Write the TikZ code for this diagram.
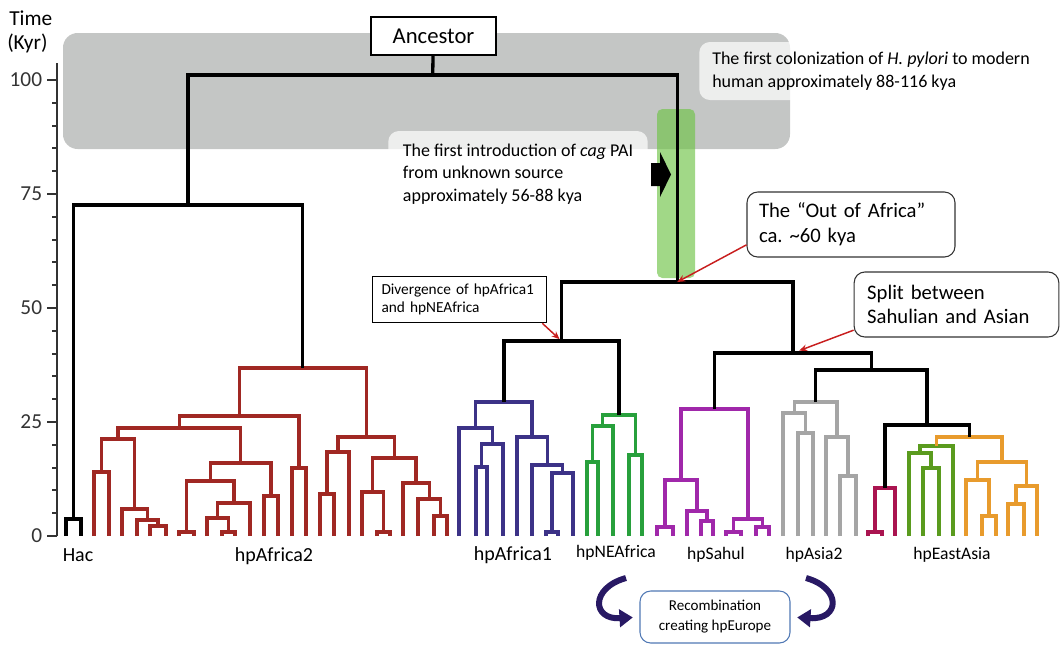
\documentclass[tikz,border=0pt]{standalone}
\usepackage{fontspec}
\setmainfont{Carlito}
\usetikzlibrary{arrows.meta,calc}
\definecolor{hpafrtwo}{RGB}{160,40,35}
\definecolor{hpafrone}{RGB}{60,50,135}
\definecolor{hpnea}{RGB}{40,160,60}
\definecolor{hpsah}{RGB}{160,40,170}
\definecolor{hpasia}{RGB}{165,165,165}
\definecolor{hpeacrim}{RGB}{170,20,80}
\definecolor{hpeagreen}{RGB}{90,155,30}
\definecolor{hpeaorange}{RGB}{232,155,45}
\definecolor{bandgray}{RGB}{196,198,197}
\definecolor{bandgreen}{RGB}{110,195,70}
\definecolor{notered}{RGB}{200,30,30}
\definecolor{recindigo}{RGB}{40,25,100}
\definecolor{recblue}{RGB}{80,120,180}
\newcommand{\clade}[4]{%
  \path let \p1=($(#3)!.5!(#4)$), \p2=(0,#2) in coordinate (#1) at (\x1,\y2);
  \draw (#3) |- (#1) -| (#4);}

\begin{document}
\begin{tikzpicture}[x=0.75pt,y=-0.75pt,
  dendro/.style={line width=2.5pt},
  axisline/.style={line width=1.4pt,black!80},
  axistitle/.style={font=\fontsize{16}{19}\selectfont,inner sep=0pt},
  ticklabel/.style={font=\fontsize{16}{19}\selectfont,inner sep=3pt},
  cladelabel/.style={font=\fontsize{15}{18}\selectfont},
  smalllabel/.style={font=\fontsize{13.2}{16}\selectfont},
  lightbox/.style={fill=white,fill opacity=0.7,text opacity=1,rounded corners=8pt,align=left,anchor=west,font=\fontsize{13.5}{17}\selectfont},
  notebox/.style={draw=black!80,line width=0.8pt,fill=white,rounded corners=8pt,align=left,font=\fontsize{15.5}{18.5}\selectfont},
  notearrow/.style={notered,line width=1.1pt,-{Stealth[length=6pt,width=5pt]}},
  recarrow/.style={recindigo,line width=4.5pt,shorten >=5pt,-{Triangle[length=10pt,width=13pt]}}]
  \useasboundingbox (0,0) rectangle (1062,644);
  \fill[bandgray,rounded corners=11pt] (63,33) rectangle (790,149);
  \node[lightbox,minimum height=43.5pt,inner xsep=9.75pt] (colon) at (699,71) {The first colonization of \textit{H. pylori} to modern\\human approximately 88-116 kya};
  \node[lightbox,minimum height=64.5pt,inner xsep=11pt] (intro) at (388,174) {The first introduction of \textit{cag} PAI\\from unknown source\\approximately 56-88 kya};
  \fill[bandgreen,fill opacity=0.65,rounded corners=4pt] (657,109) rectangle (695,278);
  \fill (651,163) -- (660,163) -- (660,152) -- (671,174.5) -- (660,197) -- (660,186) -- (651,186) -- cycle;

  \draw[axisline] (57,63) -- (57,536);
  \foreach \v in {0,5,...,100} \draw[axisline] (57,{536-4.56*\v}) -- ++(-5,0);
  \foreach \v in {0,25,...,100} \draw[axisline] (57,{536-4.56*\v}) -- ++(-10,0) node[left,ticklabel] (tick\v) {\v};
  \node[axistitle,anchor=west] (time) at (9,18) {Time};
  \node[axistitle,anchor=west] (kyr) at (7,43) {(Kyr)};

  \foreach \n/\xpos in {hc1/66,hc2/81,
    f1/94,f2/109,f3/122,f4/137,f5/150,f6/166,f7/179,f8/194,f9/207,f10/222,f11/235,f12/250,f13/264,
    f14/278,f15/292,f16/306,f17/320,f18/334,f19/349,f20/362,f21/377,f22/390,f23/403,f24/418,f25/434,f26/447,
    o1/459,o2/476,o3/487,o4/503,o5/517,o6/532,o7/546,o8/558,o9/573,
    n1/587,n2/598,n3/613,n4/629,n5/642,
    s1/657,s2/673,s3/687,s4/701,s5/713,s6/726,s7/741,s8/756,s9/769,
    b1/783,b2/798,b3/813,b4/826,b5/840,b6/856,
    e1/868,e2/882,e3/895,e4/909,e5/923,e6/939,e7/953,e8/966,e9/982,e10/996,e11/1008,e12/1024,e13/1037}
    \coordinate (\n) at (\xpos,536);

  \begin{scope}[dendro,hpafrtwo]
    \clade{fT}{472}{f1}{f2}
    \clade{fW}{526}{f5}{f6}
    \clade{fV}{520}{f4}{fW}
    \clade{fU}{509}{f3}{fV}
    \clade{fS}{439}{fT}{fU}
    \clade{fY}{532}{f7}{f8}
    \clade{fG}{532}{f10}{f11}
    \clade{fF}{518}{f9}{fG}
    \clade{fE}{503}{fF}{f12}
    \clade{fD}{481}{fY}{fE}
    \clade{fH}{496}{f13}{f14}
    \clade{fC}{463}{fD}{fH}
    \clade{fB}{428}{fS}{fC}
    \clade{fI}{468}{f15}{f16}
    \clade{fA}{416}{fB}{fI}
    \clade{fL}{494}{f17}{f18}
    \clade{fK}{452}{fL}{f19}
    \clade{fO}{532}{f21}{f22}
    \clade{fN}{492}{f20}{fO}
    \clade{fR}{516}{f25}{f26}
    \clade{fQ}{499}{f24}{fR}
    \clade{fP}{483}{f23}{fQ}
    \clade{fM}{458}{fN}{fP}
    \clade{fJ}{437}{fK}{fM}
    \clade{afrtwo}{368}{fA}{fJ}
  \end{scope}
  \begin{scope}[dendro,hpafrone]
    \clade{oC}{467}{o2}{o3}
    \clade{oB}{444}{oC}{o4}
    \clade{oA}{428}{o1}{oB}
    \clade{oG}{532}{o7}{o8}
    \clade{oF}{473}{oG}{o9}
    \clade{oE}{465}{o6}{oF}
    \clade{oD}{437}{o5}{oE}
    \clade{afrone}{402}{oA}{oD}
  \end{scope}
  \begin{scope}[dendro,hpnea]
    \clade{nB}{462}{n1}{n2}
    \clade{nA}{426}{nB}{n3}
    \clade{nC}{455}{n4}{n5}
    \clade{nea}{415}{nA}{nC}
  \end{scope}
  \begin{scope}[dendro,hpsah]
    \clade{sB}{527}{s1}{s2}
    \clade{sD}{521}{s4}{s5}
    \clade{sC}{511}{s3}{sD}
    \clade{sA}{480}{sB}{sC}
    \clade{sF}{532}{s6}{s7}
    \clade{sG}{527}{s8}{s9}
    \clade{sE}{519}{sF}{sG}
    \clade{sahul}{409}{sA}{sE}
  \end{scope}
  \begin{scope}[dendro,hpasia]
    \clade{bB}{433}{b2}{b3}
    \clade{bA}{413}{b1}{bB}
    \clade{bD}{476}{b5}{b6}
    \clade{bC}{437}{b4}{bD}
    \clade{asiatwo}{402}{bA}{bC}
  \end{scope}
  \begin{scope}[dendro,hpeacrim]
    \clade{eT}{532}{e1}{e2}
    \clade{eA}{488}{eT}{e3}
  \end{scope}
  \begin{scope}[dendro,hpeagreen]
    \clade{eE}{468}{e5}{e6}
    \clade{eD}{453}{e4}{eE}
    \clade{eC}{446}{eD}{e7}
  \end{scope}
  \begin{scope}[dendro,hpeaorange]
    \clade{eH}{516}{e9}{e10}
    \clade{eG}{480}{e8}{eH}
    \clade{eK}{504}{e11}{e12}
    \clade{eJ}{486}{eK}{e13}
    \clade{eF}{462}{eG}{eJ}
    \clade{eB}{437}{eC}{eF}
  \end{scope}
  \begin{scope}[dendro]
    \clade{hac}{519}{hc1}{hc2}
    \clade{eastasia}{425}{eA}{eB}
    \clade{outer}{205}{hac}{afrtwo}
    \clade{divg}{341}{afrone}{nea}
    \clade{asia}{370}{asiatwo}{eastasia}
    \clade{sahulasia}{353}{sahul}{asia}
    \clade{ooa}{282}{divg}{sahulasia}
    \clade{root}{75}{outer}{ooa}
  \end{scope}

  \node[cladelabel] (lhac) at (78,555) {Hac};
  \node[cladelabel] (lafrtwo) at (274,556) {hpAfrica2};
  \node[cladelabel] (lafrone) at (513,555) {hpAfrica1};
  \node[smalllabel] (lnea) at (616,553) {hpNEAfrica};
  \node[smalllabel] (lsahul) at (716,555) {hpSahul};
  \node[smalllabel] (lasiatwo) at (814,555) {hpAsia2};
  \node[smalllabel] (least) at (952,555) {hpEastAsia};

  \node[draw,line width=0.8pt,fill=white,minimum width=93.75pt,minimum height=28.5pt,font=\fontsize{17}{20}\selectfont] (anc) at (433.5,36) {Ancestor};
  \draw[dendro] (root) -- (anc);
  \node[notebox,text width=138pt,inner xsep=9pt,minimum height=48.75pt] (ooabox) at (851,224.5) {The “Out of Africa”\\ca.\ \textasciitilde60 kya};
  \node[notebox,text width=134pt,inner xsep=9.75pt,minimum height=48.75pt] (splitbox) at (956.5,304.5) {Split between\\Sahulian and Asian};
  \node[draw,line width=0.6pt,fill=white,text width=117pt,inner xsep=7pt,minimum height=35pt,align=left,font=\fontsize{11.5}{13.5}\selectfont] (divbox) at (459.5,299.5) {Divergence of hpAfrica1\\and hpNEAfrica};
  \node[draw=recblue,line width=0.8pt,rounded corners=8pt,minimum width=112.5pt,minimum height=39pt,align=center,font=\fontsize{11.3}{15}\selectfont] (recbox) at (715,617) {Recombination\\creating hpEurope};

  \draw[notearrow] (ooabox.191) -- (ooa);
  \draw[notearrow,shorten >=5pt] (splitbox.194) -- (sahulasia);
  \draw[notearrow,shorten >=2pt] (divbox.344) -- (divg);
  \coordinate (recfromL) at (626,578);
  \coordinate (recfromR) at (806,578);
  \draw[recarrow] (recfromL) .. controls (590,588) and (592,620) .. (recbox.west);
  \draw[recarrow] (recfromR) .. controls (842,588) and (840,620) .. (recbox.east);
\end{tikzpicture}
\end{document}
